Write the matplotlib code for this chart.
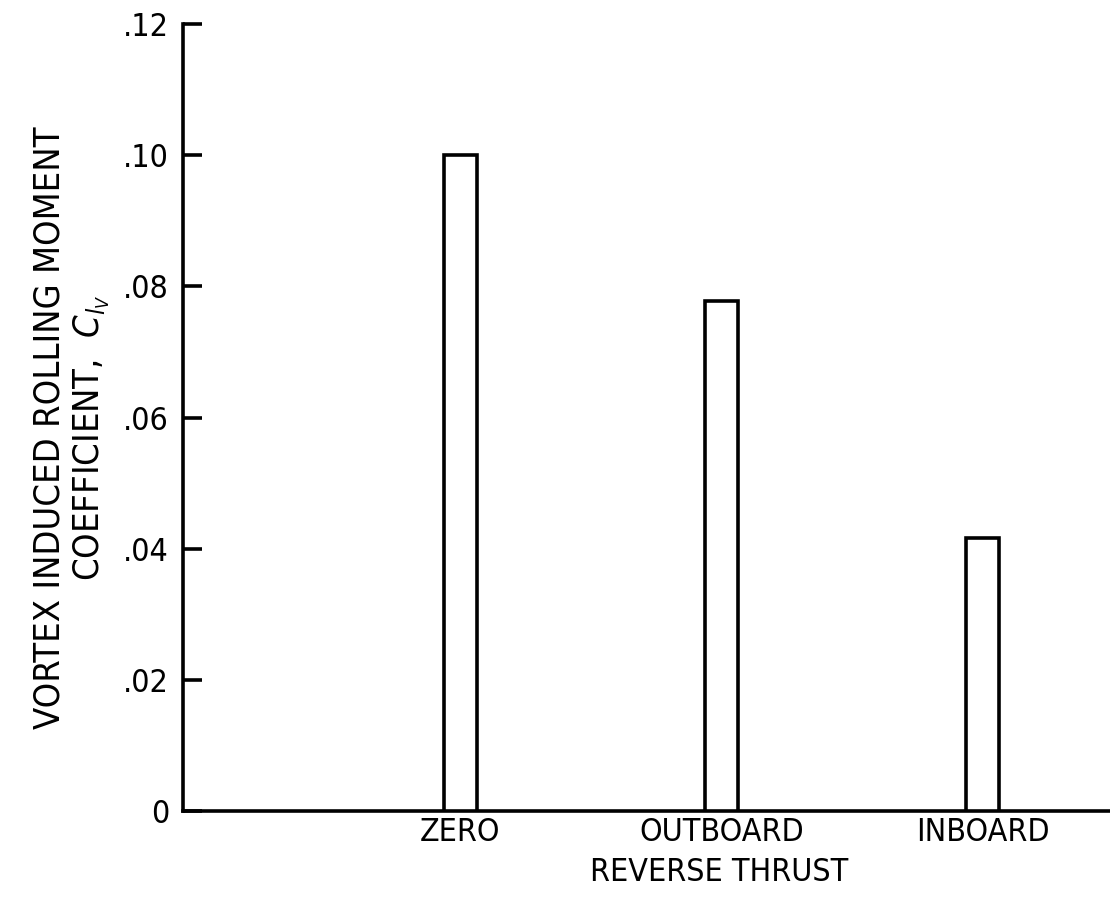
import matplotlib
matplotlib.use("Agg")
import matplotlib.pyplot as plt
from matplotlib.ticker import FixedLocator, FixedFormatter

categories = ["ZERO", "OUTBOARD", "INBOARD"]
values = [0.100, 0.0778, 0.0416]
yticks = [0, 0.02, 0.04, 0.06, 0.08, 0.10, 0.12]
ytick_labels = ["0", ".02", ".04", ".06", ".08", ".10", ".12"]
xlabel = "REVERSE THRUST"
ylabel_line1 = "VORTEX INDUCED ROLLING MOMENT"
ylabel_line2 = "COEFFICIENT,  $C_{l_V}$"

plt.rcParams['font.family'] = ['DejaVu Sans']
plt.rcParams['font.stretch'] = 'condensed'

W, H = 1110, 901
fig = plt.figure(figsize=(W/100, H/100), dpi=100)
ax = fig.add_axes([183/W, 90/H, 1 - 183/W, (811-24)/H])

positions = list(range(len(categories)))
ax.bar(positions, values, width=0.126, facecolor="white", edgecolor="black",
       linewidth=2.6, zorder=3)

ax.set_xlim(-1.06, 2.486)
ax.set_ylim(0, 0.12)

ax.spines['top'].set_visible(False)
ax.spines['right'].set_visible(False)
for s in ('left', 'bottom'):
    ax.spines[s].set_linewidth(2.6)

ax.yaxis.set_major_locator(FixedLocator(yticks))
ax.yaxis.set_major_formatter(FixedFormatter(ytick_labels))
ax.tick_params(axis='y', direction='in', length=14, width=2.6, pad=10,
               labelsize=23)
ax.set_xticks(positions)
ax.set_xticklabels(categories)
ax.tick_params(axis='x', length=0, pad=4, labelsize=23)

ax.set_xlabel(xlabel, fontsize=23, labelpad=7, x=(719-183)/(W-183))

fig.text(50/W, 1 - 428/H, ylabel_line1, rotation=90, ha='center', va='center',
         fontsize=26)
fig.text(92/W, 1 - 438/H, ylabel_line2, rotation=90, ha='center', va='center',
         fontsize=26)

fig.savefig("out.png", dpi=100, facecolor="white")
